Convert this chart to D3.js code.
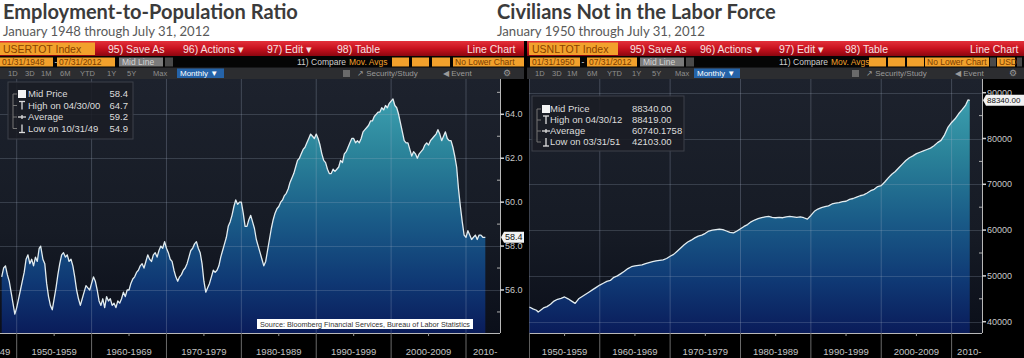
<!DOCTYPE html>
<html><head><meta charset="utf-8">
<script src="https://cdn.jsdelivr.net/npm/d3@7"></script>
<style>html,body{margin:0;padding:0;background:#000;overflow:hidden}svg{display:block}</style>
</head><body><svg id="c" width="1024" height="358"></svg>
<script>
// ---------------- DATA ----------------
const empDates = [1948.0,1948.25,1948.5,1948.75,1949.0,1949.25,1949.5,1949.75,1950.0,1950.25,1950.5,1950.75,1951.0,1951.25,1951.5,1951.75,1952.0,1952.25,1952.5,1952.75,1953.0,1953.2,1953.5,1953.75,1954.0,1954.25,1954.5,1954.75,1955.0,1955.25,1955.5,1955.75,1956.0,1956.25,1956.5,1956.75,1957.0,1957.25,1957.5,1957.75,1958.0,1958.25,1958.5,1958.75,1959.0,1959.25,1959.5,1959.75,1960.0,1960.25,1960.5,1960.75,1961.0,1961.25,1961.5,1961.75,1962.0,1962.25,1962.5,1962.75,1963.0,1963.25,1963.5,1963.75,1964.0,1964.25,1964.5,1964.75,1965.0,1965.25,1965.5,1965.75,1966.0,1966.25,1966.5,1966.75,1967.0,1967.25,1967.5,1967.75,1968.0,1968.25,1968.5,1968.75,1969.0,1969.25,1969.5,1969.75,1970.0,1970.25,1970.5,1970.75,1971.0,1971.25,1971.5,1971.75,1972.0,1972.25,1972.5,1972.75,1973.0,1973.25,1973.5,1973.75,1974.0,1974.25,1974.5,1974.75,1975.0,1975.25,1975.5,1975.75,1976.0,1976.25,1976.5,1976.75,1977.0,1977.25,1977.5,1977.75,1978.0,1978.25,1978.5,1978.75,1979.0,1979.25,1979.5,1979.75,1980.0,1980.25,1980.5,1980.75,1981.0,1981.25,1981.5,1981.75,1982.0,1982.25,1982.5,1982.75,1983.0,1983.25,1983.5,1983.75,1984.0,1984.25,1984.5,1984.75,1985.0,1985.25,1985.5,1985.75,1986.0,1986.25,1986.5,1986.75,1987.0,1987.25,1987.5,1987.75,1988.0,1988.25,1988.5,1988.75,1989.0,1989.25,1989.5,1989.75,1990.0,1990.25,1990.5,1990.75,1991.0,1991.25,1991.5,1991.75,1992.0,1992.25,1992.5,1992.75,1993.0,1993.25,1993.5,1993.75,1994.0,1994.25,1994.5,1994.75,1995.0,1995.25,1995.5,1995.75,1996.0,1996.25,1996.5,1996.75,1997.0,1997.25,1997.5,1997.75,1998.0,1998.25,1998.5,1998.75,1999.0,1999.25,1999.5,1999.75,2000.0,2000.25,2000.5,2000.75,2001.0,2001.25,2001.5,2001.75,2002.0,2002.25,2002.5,2002.75,2003.0,2003.25,2003.5,2003.75,2004.0,2004.25,2004.5,2004.75,2005.0,2005.25,2005.5,2005.75,2006.0,2006.25,2006.5,2006.75,2007.0,2007.25,2007.5,2007.75,2008.0,2008.25,2008.5,2008.75,2009.0,2009.25,2009.5,2009.75,2010.0,2010.25,2010.5,2010.75,2011.0,2011.25,2011.5,2011.75,2012.0,2012.25,2012.58];
const empValues = [56.6,57.0,57.1,56.7,56.4,55.9,55.4,54.9,55.2,55.6,56.0,56.4,56.8,57.4,57.6,57.2,57.4,57.1,57.5,57.3,57.9,58.0,57.4,57.2,56.3,55.7,55.3,55.1,55.6,56.1,56.7,57.2,57.6,57.7,57.5,57.6,57.3,57.4,57.1,56.6,56.0,55.6,55.3,55.6,55.9,56.2,56.1,56.0,56.3,56.6,56.4,56.0,55.5,55.3,55.6,55.2,55.7,55.5,55.6,55.3,55.4,55.2,55.5,55.4,55.6,55.9,55.7,56.0,56.0,56.3,56.5,56.6,56.8,56.9,57.1,57.2,57.0,57.3,57.6,57.4,57.3,57.6,57.7,57.5,57.8,58.0,57.9,58.2,57.9,57.7,57.4,57.3,56.9,56.6,56.4,56.6,56.7,56.9,57.0,57.2,57.5,57.8,57.9,58.1,58.2,57.9,57.7,57.2,56.4,55.9,56.1,56.3,56.6,56.9,56.8,56.9,57.1,57.5,57.8,58.1,58.4,58.9,59.1,59.4,59.8,60.1,59.9,60.0,60.0,59.5,58.9,58.9,59.2,59.4,59.1,58.8,58.3,58.0,57.7,57.4,57.1,57.3,57.8,58.3,58.8,59.2,59.5,59.7,59.8,60.0,60.1,60.3,60.4,60.6,60.9,61.1,61.3,61.6,61.9,62.0,62.2,62.4,62.5,62.7,62.9,63.1,63.0,62.9,63.1,62.9,62.6,62.2,61.9,61.8,61.5,61.3,61.3,61.5,61.4,61.5,61.6,61.9,61.8,62.2,62.3,62.5,62.7,62.9,62.9,62.7,62.8,62.7,62.9,63.2,63.3,63.4,63.5,63.7,63.7,63.9,64.0,64.1,64.1,64.3,64.2,64.4,64.3,64.5,64.6,64.7,64.4,64.3,64.0,63.6,63.2,62.8,62.7,62.7,62.4,62.1,62.3,62.2,62.0,62.2,62.3,62.4,62.6,62.7,62.6,62.8,62.9,63.0,63.1,63.3,63.1,62.8,63.0,63.2,62.9,62.8,62.8,62.5,62.1,61.6,60.6,59.8,59.1,58.5,58.4,58.7,58.5,58.3,58.4,58.5,58.3,58.5,58.5,58.4,58.4];

const nilfDates = [1950.0,1950.5,1951.0,1951.25,1951.5,1952.0,1952.5,1953.0,1953.5,1954.0,1954.5,1955.0,1955.5,1956.0,1956.5,1957.0,1957.5,1958.0,1958.5,1959.0,1959.5,1960.0,1960.5,1961.0,1961.5,1962.0,1962.5,1963.0,1963.5,1964.0,1964.5,1965.0,1965.5,1966.0,1966.5,1967.0,1967.5,1968.0,1968.5,1969.0,1969.5,1970.0,1970.5,1971.0,1971.5,1972.0,1972.5,1973.0,1973.5,1974.0,1974.5,1975.0,1975.5,1976.0,1976.5,1977.0,1977.5,1978.0,1978.5,1979.0,1979.5,1980.0,1980.5,1981.0,1981.5,1982.0,1982.5,1983.0,1983.5,1984.0,1984.5,1985.0,1985.5,1986.0,1986.5,1987.0,1987.5,1988.0,1988.5,1989.0,1989.5,1990.0,1990.5,1991.0,1991.5,1992.0,1992.5,1993.0,1993.5,1994.0,1994.5,1995.0,1995.5,1996.0,1996.5,1997.0,1997.5,1998.0,1998.5,1999.0,1999.5,2000.0,2000.5,2001.0,2001.5,2002.0,2002.5,2003.0,2003.5,2004.0,2004.5,2005.0,2005.5,2006.0,2006.5,2007.0,2007.5,2008.0,2008.5,2009.0,2009.5,2010.0,2010.5,2011.0,2011.5,2012.0,2012.33,2012.58];
const nilfValues = [43200,42800,42500,42103,42400,43000,43300,43800,44500,44900,45100,45400,45000,44500,44000,45000,45500,46000,46500,47000,47500,48000,48400,48800,49000,49700,50000,50500,51000,51600,52000,52200,52300,52400,52700,52900,53100,53300,53400,53500,53800,54300,54700,55400,56100,56800,57400,57800,58300,58700,58900,59300,59800,60000,60100,60200,60100,59800,59500,59400,59800,60300,60800,61200,61800,62200,62500,62700,62900,63000,62800,62700,62800,62700,62900,63000,62900,62800,62900,62700,62400,63200,64100,64600,64900,65100,65300,65700,65900,66000,66200,66300,66700,66900,67200,67500,67700,68100,68600,68900,69500,69700,70500,71400,72200,72800,73600,74400,75200,75800,76200,76700,77000,77300,77600,77900,78400,79100,79600,80800,82500,83500,84300,85400,86300,87300,88419,88340];

const decadeStarts = [1940,1950,1960,1970,1980,1990,2000,2010];
const decadeLabels = ["49","1950-1959","1960-1969","1970-1979","1980-1989","1990-1999","2000-2009","2010-"];
const empTicks = [56,58,60,62,64];
const empMinorTicks = [55,57,59,61,63,65];
const nilfTicks = [40000,50000,60000,70000,80000,90000];
const nilfMinorTicks = [45000,55000,65000,75000,85000];
const empLegendLabels = ["Mid Price","High on 04/30/00","Average","Low on 10/31/49"];
const empLegendValues = ["58.4","64.7","59.2","54.9"];
const nilfLegendLabels = ["Mid Price","High on 04/30/12","Average","Low on 03/31/51"];
const nilfLegendValues = ["88340.00","88419.00","60740.1758","42103.00"];
const empLast = 58.4, nilfLast = 88340;
const titles = ["Employment-to-Population Ratio","Civilians Not in the Labor Force"];
const subtitles = ["January 1948 through July 31, 2012","January 1950 through July 31, 2012"];

// ---------------- DRAW ----------------
const svg = d3.select("#c");
const defs = svg.append("defs");
const FONT = "'Liberation Sans', Arial, sans-serif";

const rg = defs.append("linearGradient").attr("id","redg").attr("x1",0).attr("x2",0).attr("y1",0).attr("y2",1);
rg.append("stop").attr("offset",0).attr("stop-color","#e3303a");
rg.append("stop").attr("offset",0.5).attr("stop-color","#c8121e");
rg.append("stop").attr("offset",1).attr("stop-color","#8c0610");

const bg = defs.append("linearGradient").attr("id","bgg").attr("x1",0).attr("x2",0).attr("y1",0).attr("y2",1);
bg.append("stop").attr("offset",0).attr("stop-color","#1d222d");
bg.append("stop").attr("offset",0.6).attr("stop-color","#161b25");
bg.append("stop").attr("offset",1).attr("stop-color","#0b0f1a");

const ag = defs.append("linearGradient").attr("id","areag").attr("gradientUnits","userSpaceOnUse")
  .attr("x1",0).attr("x2",0).attr("y1",79).attr("y2",333);
ag.append("stop").attr("offset",0).attr("stop-color","#42a8b6");
ag.append("stop").attr("offset",0.3).attr("stop-color","#2a8299");
ag.append("stop").attr("offset",0.55).attr("stop-color","#1a5c88");
ag.append("stop").attr("offset",0.8).attr("stop-color","#0f3874");
ag.append("stop").attr("offset",1).attr("stop-color","#0a1c5a");

svg.append("rect").attr("x",0).attr("y",0).attr("width",1024).attr("height",41).attr("fill","#ffffff");

function fitText(t, target) {
  const w = t.node().getComputedTextLength();
  const fs = parseFloat(t.attr("font-size"));
  t.attr("font-size", (fs*target/w).toFixed(2));
}
[[3,298],[497,776]].forEach((r,i)=>{
  const t = svg.append("text").attr("x",r[0]).attr("y",18.5).attr("font-family","Lato, 'Open Sans', sans-serif")
    .attr("font-weight",700).attr("font-size",18).attr("fill","#3b3b3b").text(titles[i]);
  fitText(t, r[1]-r[0]);
});
[[3,210],[497,705]].forEach((r,i)=>{
  const t = svg.append("text").attr("x",r[0]).attr("y",35.5).attr("font-family","Lato, 'Open Sans', sans-serif")
    .attr("font-size",12).attr("fill","#595959").text(subtitles[i]);
  fitText(t, r[1]-r[0]);
});

function box(x0,x1,y0,y1,fill){ svg.append("rect").attr("x",x0).attr("y",y0).attr("width",x1-x0).attr("height",y1-y0).attr("fill",fill); }
function txt(x,y,s,size,fill,anchor){ return svg.append("text").attr("x",x).attr("y",y).attr("font-family",FONT).attr("font-size",size).attr("fill",fill).attr("text-anchor",anchor||"start").text(s); }

function header(h) {
  box(h.px0,h.px1,41,56,"url(#redg)");
  box(h.idBox[0],h.idBox[1],42.5,55,"#f2a12c");
  txt(h.idBox[0]+3,52.5,h.id,10.5,"#8a4200");
  h.menu.forEach(m=>txt(m[0],52.5,m[1],10.5,"#f8e0e0"));
  txt(h.lineChart,52.5,"Line Chart",10.5,"#f8e0e0");
  box(h.px0,h.px1,56,67.5,"#050505");
  box(h.d1[0],h.d1[1],57.5,66.5,"#f2a12c"); txt(h.d1[0]+2,65,h.d1[2],8.5,"#7a3c00");
  txt(h.d1[1]+1.5,65,"-",8.5,"#dddddd");
  box(h.d2[0],h.d2[1],57.5,66.5,"#f2a12c"); txt(h.d2[0]+2,65,h.d2[2],8.5,"#7a3c00");
  box(h.mid[0],h.mid[1],57.5,66.5,"#7b7b7b"); txt(h.mid[0]+3,65,"Mid Line",8.5,"#d4d4d4");
  box(h.mid[1]+2,h.mid[1]+10,57.5,66.5,"#4a4a4a");
  txt(h.cmp,65,"11) Compare",8.5,"#cfcfcf");
  txt(h.cmp+52,65,"Mov. Avgs",8.5,"#f2a12c");
  h.mavBoxes.forEach(b=>box(b[0],b[1],57.5,66.5,"#f2a12c"));
  box(h.nlc[0],h.nlc[1],57.5,66.5,"#f2a12c"); txt(h.nlc[0]+2,65,"No Lower Chart",8.5,"#7a3c00");
  if (h.usd) { box(h.nlc[1]+1,h.nlc[1]+7,57.5,66.5,"#4a4a4a"); box(h.usd[0],h.usd[1],57.5,66.5,"#f2a12c"); txt(h.usd[0]+2,65,"USD",8.5,"#7a3c00"); box(h.usd[1]+2,h.usd[1]+7,57.5,66.5,"#4a4a4a"); }
  box(h.px0,h.px1,67.5,79,"#2c2d30");
  ["1D","3D","1M","6M","YTD","1Y","5Y","Max"].forEach((s,i)=>txt(h.periods[i],76,s,7.5,"#8f8f8f"));
  box(h.monthly[0],h.monthly[1],68.5,78,"#2563a8"); txt(h.monthly[0]+3,76,"Monthly \u25BC",8,"#ffffff");
  box(h.icon,h.icon+7,70,77,"#6a6a6a");
  txt(h.sec,76,"\u2197 Security/Study",8,"#9a9a9a");
  txt(h.evt,76,"\u25C0 Event",8,"#9a9a9a");
  txt(h.gear,76,"\u2699",8.5,"#9a9a9a");
}

header({px0:0,px1:524,idBox:[0,95],id:"USERTOT Index",
  menu:[[108,"95) Save As"],[183,"96) Actions \u25BE"],[267,"97) Edit  \u25BE"],[337,"98) Table"]],lineChart:467,
  d1:[0,53,"01/31/1948"],d2:[57,115,"07/31/2012"],mid:[119,163],cmp:297,mavBoxes:[[392,409],[412,429],[432,450]],nlc:[453,524],
  periods:[8,25,41,60,80,107,127,153],monthly:[177,224],icon:343,sec:357,evt:443,gear:503});
header({px0:527,px1:1024,idBox:[529,618],id:"USNLTOT Index",
  menu:[[630,"95) Save As"],[700,"96) Actions \u25BE"],[779,"97) Edit  \u25BE"],[845,"98) Table"]],lineChart:970,
  d1:[530,580,"01/31/1950"],d2:[587,637,"07/31/2012"],mid:[640,684],cmp:779,mavBoxes:[[869,886],[888,905],[907,924]],nlc:[925,989],
  usd:[997,1015],periods:[535,552,567,587,607,632,652,675],monthly:[694,740],icon:852,sec:866,evt:955,gear:1009});

function drawPanel(p) {
  const x = d3.scaleLinear().domain([1950,2010]).range(p.xr);
  const y = d3.scaleLinear().domain(p.yd).range(p.yr);
  const {x0,x1,y0,y1} = p.plot;
  const cid = "clip"+p.id;
  defs.append("clipPath").attr("id",cid).append("rect").attr("x",x0).attr("y",y0).attr("width",x1-x0).attr("height",y1-y0);
  const g = svg.append("g").attr("clip-path",`url(#${cid})`);
  g.append("rect").attr("x",x0).attr("y",y0).attr("width",x1-x0).attr("height",y1-y0).attr("fill","url(#bgg)");
  const data = p.dates.map((d,i)=>({d,v:p.values[i]}));
  g.append("path").datum(data).attr("fill","url(#areag)")
    .attr("d", d3.area().x(d=>x(d.d)).y0(y1).y1(d=>y(d.v)));
  g.selectAll(null).data(decadeStarts).join("line")
    .attr("x1",d=>x(d)).attr("x2",d=>x(d)).attr("y1",y0).attr("y2",y1)
    .attr("stroke","#aab4c8").attr("stroke-opacity",0.28).attr("stroke-width",1);
  g.selectAll(null).data(p.ticks).join("line")
    .attr("x1",x0).attr("x2",x1).attr("y1",d=>Math.round(y(d))+0.5).attr("y2",d=>Math.round(y(d))+0.5)
    .attr("stroke","#aab4c8").attr("stroke-opacity",0.22).attr("stroke-width",1);
  g.append("path").datum(data).attr("fill","none").attr("stroke","#e2ecf0").attr("stroke-width",1.3)
    .attr("stroke-linejoin","round").attr("d", d3.line().x(d=>x(d.d)).y(d=>y(d.v)));
  svg.append("line").attr("x1",x1+0.5).attr("x2",x1+0.5).attr("y1",y0).attr("y2",y1).attr("stroke","#b8b8b8");
  p.ticks.forEach(t=>{
    const yy = y(t);
    if (yy<y0-2||yy>y1) return;
    svg.append("line").attr("x1",x1).attr("x2",x1+4).attr("y1",yy).attr("y2",yy).attr("stroke","#d0d0d0").attr("stroke-width",1.5);
    txt(x1+5,yy+3,p.fmt(t),9,"#c8c8c8");
  });
  p.minor.forEach(t=>{
    const yy = y(t);
    if (yy<y0||yy>y1) return;
    svg.append("line").attr("x1",x1-3).attr("x2",x1).attr("y1",yy).attr("y2",yy).attr("stroke","#b0b0b0");
  });
  svg.append("line").attr("x1",x0).attr("x2",x1).attr("y1",y1+0.5).attr("y2",y1+0.5).attr("stroke","#b8b8b8");
  const bcid = "bclip"+p.id;
  defs.append("clipPath").attr("id",bcid).append("rect").attr("x",x0).attr("y",y1).attr("width",x1-x0).attr("height",358-y1);
  const bgp = svg.append("g").attr("clip-path",`url(#${bcid})`);
  decadeStarts.forEach((d,i)=>{
    const xs = x(d);
    bgp.append("line").attr("x1",xs).attr("x2",xs).attr("y1",y1).attr("y2",358).attr("stroke","#6a6a6a");
    bgp.append("line").attr("x1",x(d+5)).attr("x2",x(d+5)).attr("y1",y1).attr("y2",y1+3).attr("stroke","#9a9a9a");
    const xc = (x(d)+x(d+10))/2;
    let tx = xc, anchor = "middle";
    if (x(d+10) > x1+1) { tx = xs + p.lastPad; anchor = "start"; }
    else if (xs < x0) { tx = x(d+10) - 6.5; anchor = "end"; if (tx <= x0 + 2) return; }
    bgp.append("text").attr("x",tx).attr("y",355).attr("font-family",FONT).attr("font-size",9.5)
      .attr("fill","#c4c4c4").attr("text-anchor",anchor).text(decadeLabels[i]);
  });
  const L = p.legend;
  svg.append("rect").attr("x",L.x0).attr("y",L.y0).attr("width",L.x1-L.x0).attr("height",L.y1-L.y0)
    .attr("fill","#1a1d24").attr("fill-opacity",0.88).attr("stroke","#3c414a");
  const lx = L.x0+10;
  svg.append("line").attr("x1",L.x0+5).attr("x2",L.x0+5).attr("y1",L.rows[0]).attr("y2",L.rows[3]).attr("stroke","#777");
  L.rows.forEach((ry,i)=>{
    svg.append("line").attr("x1",L.x0+5).attr("x2",L.x0+9).attr("y1",ry).attr("y2",ry).attr("stroke","#777");
    if (i===0) svg.append("rect").attr("x",lx).attr("y",ry-4).attr("width",8).attr("height",8).attr("fill","#f4f4f4");
    if (i===1) { svg.append("line").attr("x1",lx+1).attr("x2",lx+7).attr("y1",ry-4).attr("y2",ry-4).attr("stroke","#ddd").attr("stroke-width",1.3);
                 svg.append("line").attr("x1",lx+4).attr("x2",lx+4).attr("y1",ry-4).attr("y2",ry+4).attr("stroke","#ddd").attr("stroke-width",1.3); }
    if (i===2) { svg.append("line").attr("x1",lx).attr("x2",lx+8).attr("y1",ry).attr("y2",ry).attr("stroke","#ddd").attr("stroke-width",1.3);
                 svg.append("line").attr("x1",lx+4).attr("x2",lx+4).attr("y1",ry-2).attr("y2",ry+2).attr("stroke","#ddd").attr("stroke-width",1.3); }
    if (i===3) { svg.append("line").attr("x1",lx+1).attr("x2",lx+7).attr("y1",ry+4).attr("y2",ry+4).attr("stroke","#ddd").attr("stroke-width",1.3);
                 svg.append("line").attr("x1",lx+4).attr("x2",lx+4).attr("y1",ry-4).attr("y2",ry+4).attr("stroke","#ddd").attr("stroke-width",1.3); }
    txt(L.labelX,ry+3.3,p.legendLabels[i],9.5,"#dcdcdc");
    txt(L.valX,ry+3.3,p.legendValues[i],9.5,"#dcdcdc",L.valAnchor);
  });
  const ty = y(p.last);
  svg.append("path").attr("d",`M${x1+1},${ty} L${x1+4},${ty-5.5} L${x1+p.tagW},${ty-5.5} L${x1+p.tagW},${ty+5.5} L${x1+4},${ty+5.5} Z`)
    .attr("fill","#f2f2f2");
  txt(x1+5,ty+3,p.fmt2(p.last),p.tagFont,"#111");
}

drawPanel({id:"L",xr:[16.7,466],yd:[56,64],yr:[290,114.3],plot:{x0:0,x1:500,y0:79,y1:333},
  dates:empDates,values:empValues,ticks:empTicks,minor:empMinorTicks,fmt:d3.format(".1f"),fmt2:d3.format(".1f"),
  lastPad:7,last:empLast,tagW:24,tagFont:9,legendLabels:empLegendLabels,legendValues:empLegendValues,
  legend:{x0:8,x1:133,y0:82,y1:139,rows:[94,105.5,117,128.5],labelX:28,valX:128,valAnchor:"end"}});
drawPanel({id:"R",xr:[529.4,951.6],yd:[40000,90000],yr:[321.7,92.7],plot:{x0:529,x1:982,y0:79,y1:333},
  dates:nilfDates,values:nilfValues,ticks:nilfTicks,minor:nilfMinorTicks,fmt:d3.format("d"),fmt2:d3.format(".2f"),
  lastPad:5.5,last:nilfLast,tagW:42,tagFont:8,legendLabels:nilfLegendLabels,legendValues:nilfLegendValues,
  legend:{x0:532,x1:684,y0:96,y1:151,rows:[109,120,131,142],labelX:550,valX:632,valAnchor:"start"}});

svg.append("rect").attr("x",257).attr("y",319).attr("width",216).attr("height",10).attr("fill","#ffffff");
svg.append("text").attr("x",260).attr("y",326.8).attr("font-family",FONT).attr("font-size",6.5).attr("fill","#333")
  .attr("textLength",210).attr("lengthAdjust","spacingAndGlyphs")
  .text("Source:  Bloomberg Financial Services, Bureau of Labor Statistics");
</script></body></html>
